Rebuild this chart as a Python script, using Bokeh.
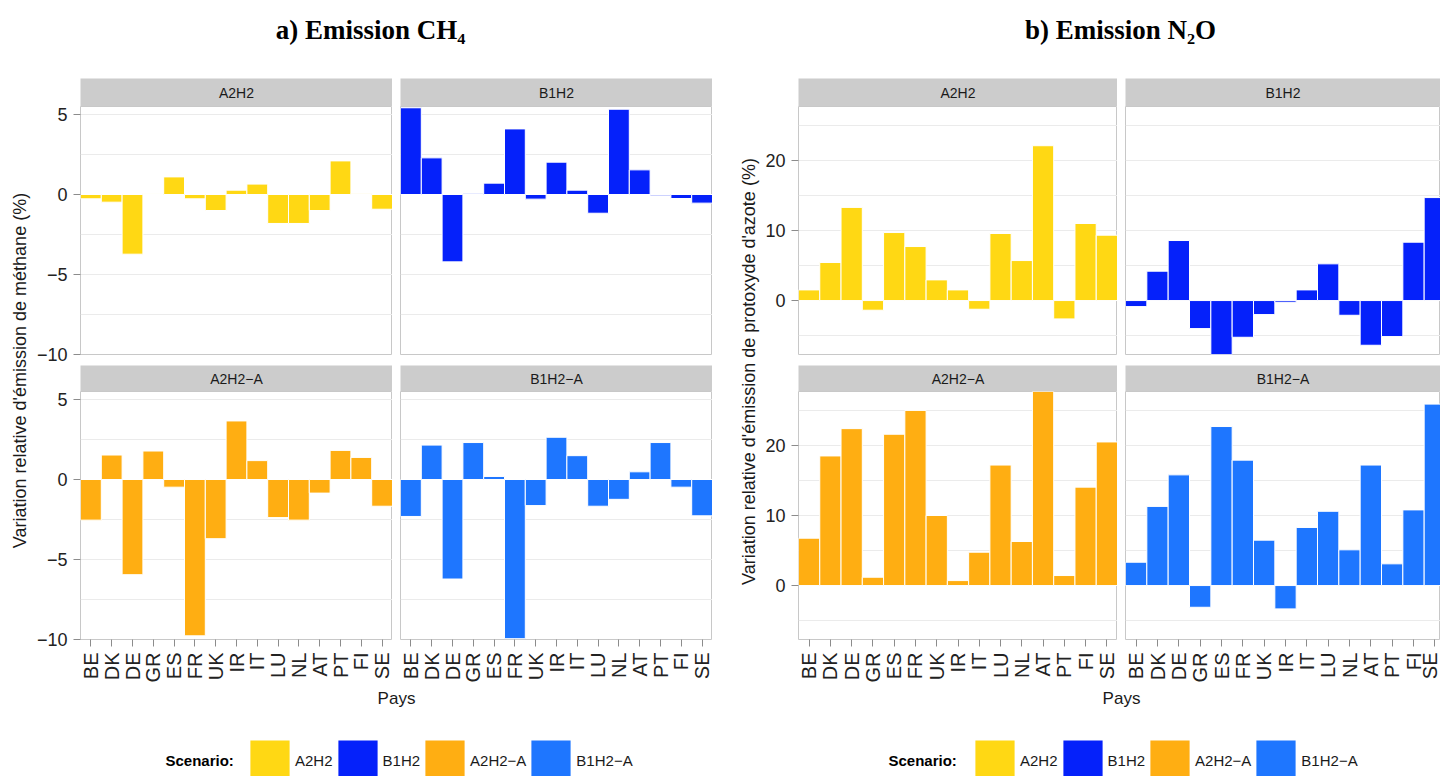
import math
from bokeh.plotting import figure
from bokeh.layouts import row, column
from bokeh.models import (Range1d, FixedTicker, CustomJSTickFormatter, Legend,
                          LegendItem, ColumnDataSource)
from bokeh.core.properties import value
from bokeh.embed import file_html
from bokeh.resources import INLINE

# ---------------- data ----------------
countries = ["BE", "DK", "DE", "GR", "ES", "FR", "UK", "IR", "IT", "LU", "NL", "AT", "PT", "FI", "SE"]
scenarios = ["A2H2", "B1H2", "A2H2\u2212A", "B1H2\u2212A"]
scenario_colors = ["#FFD814", "#0521FA", "#FFAE12", "#1E76FF"]

ch4_a2h2 = [-0.27, -0.48, -3.73, 0.06, 1.10, -0.27, -1.00, 0.27, 0.65, -1.81, -1.81, -1.00, 2.10, 0.05, -0.92]
ch4_b1h2 = [5.42, 2.29, -4.21, 0.04, 0.71, 4.10, -0.29, 2.02, 0.27, -1.17, 5.33, 1.54, -0.08, -0.25, -0.54]
ch4_a2h2a = [-2.54, 1.53, -5.95, 1.78, -0.48, -9.77, -3.70, 3.66, 1.18, -2.38, -2.54, -0.85, 1.82, 1.38, -1.67]
ch4_b1h2a = [-2.31, 2.15, -6.22, 2.31, 0.19, -9.95, -1.63, 2.64, 1.49, -1.67, -1.24, 0.48, 2.31, -0.48, -2.27]

n2o_a2h2 = [1.52, 5.43, 13.3, -1.38, 9.71, 7.71, 2.95, 1.52, -1.24, 9.57, 5.71, 22.1, -2.62, 11.0, 9.33]
n2o_b1h2 = [-0.86, 4.19, 8.57, -4.00, -7.70, -5.24, -2.00, -0.24, 1.52, 5.24, -2.10, -6.38, -5.14, 8.33, 14.7]
n2o_a2h2a = [6.76, 18.5, 22.4, 1.19, 21.6, 25.0, 10.0, 0.71, 4.76, 17.2, 6.29, 27.7, 1.43, 14.05, 20.5]
n2o_b1h2a = [3.33, 11.3, 15.8, -3.10, 22.7, 17.9, 6.48, -3.33, 8.29, 10.6, 5.10, 17.2, 3.10, 10.8, 25.9]

panel_titles = ["a) Emission CH\u2084", "b) Emission N\u2082O"]
y_titles = ["Variation relative d'\u00e9mission de m\u00e9thane (%)",
            "Variation relative d'\u00e9mission de protoxyde d'azote (%)"]
x_title = "Pays"
legend_title = "Scenario:"

ch4_limits = (-10.0, 5.5)
ch4_ticks = [-10, -5, 0, 5]
ch4_minor = [-7.5, -2.5, 2.5]
n2o_limits = (-7.7, 27.7)
n2o_ticks = [0, 10, 20]
n2o_minor = [-5, 5, 15, 25]

# ---------------- style ----------------
SANS = "Liberation Sans"
SERIF = "Liberation Serif"
STRIP_TOP_H = 28
STRIP_BOT_H = 26
FRAME_H = 248
GAP_B = 11
AXIS_B = 50
TEXT_COL = "#1A1A1A"
GRID_COL = "#EBEBEB"
TOTAL_W = 1440

minus_fmt = "return tick < 0 ? '\\u2212' + Math.abs(tick) : String(tick);"


def blank(width, height):
    p = figure(width=width, height=height, x_range=Range1d(0, width), y_range=Range1d(height, 0),
               min_border_left=0, min_border_right=0, min_border_top=0, min_border_bottom=0,
               x_axis_location=None, y_axis_location=None, outline_line_color=None,
               output_backend="svg", toolbar_location=None)
    p.grid.visible = False
    return p


def strip(label, width, min_left, height):
    p = figure(width=width, height=height, x_range=Range1d(0, 1), y_range=Range1d(0, 1),
               min_border_left=min_left, min_border_right=0, min_border_top=0, min_border_bottom=0,
               x_axis_location=None, y_axis_location=None,
               background_fill_color="#CCCCCC", border_fill_color="white", outline_line_color=None,
               output_backend="svg", toolbar_location=None)
    p.grid.visible = False
    p.text(x=[0.5], y=[0.5], text=[label], text_align="center", text_baseline="middle",
           text_font=value(SANS), text_font_size="14px", text_color=TEXT_COL)
    return p


def facet(vals, color, limits, ticks, minor, left_axis, bottom_axis, width, min_left, frame_w, full_w):
    n = len(countries)
    x_end = 0.5 + n * frame_w / full_w
    bb = AXIS_B if bottom_axis else GAP_B
    p = figure(width=width, height=FRAME_H + bb,
               x_range=Range1d(0.5, x_end), y_range=Range1d(*limits),
               min_border_left=min_left, min_border_right=0, min_border_top=0, min_border_bottom=bb,
               x_axis_location="below" if bottom_axis else None,
               y_axis_location="left" if left_axis else None,
               background_fill_color="white", border_fill_color="white",
               outline_line_color="#C8C8C8", outline_line_width=1,
               output_backend="svg", toolbar_location=None)
    src = ColumnDataSource(dict(x=list(range(1, n + 1)), top=vals, country=countries))
    p.vbar(x="x", top="top", bottom=0, width=1.0, source=src,
           fill_color=color, line_color="white", line_width=1)
    p.xgrid.visible = False
    p.ygrid.ticker = FixedTicker(ticks=ticks, minor_ticks=minor)
    p.ygrid.grid_line_color = GRID_COL
    p.ygrid.minor_grid_line_color = GRID_COL
    if left_axis:
        ax = p.yaxis[0]
        ax.ticker = FixedTicker(ticks=ticks)
        ax.formatter = CustomJSTickFormatter(code=minus_fmt)
        ax.axis_line_color = None
        ax.major_tick_out = 7
        ax.major_tick_in = 0
        ax.minor_tick_out = 0
        ax.minor_tick_in = 0
        ax.major_tick_line_color = "#8C8C8C"
        ax.major_label_standoff = 6
        ax.major_label_text_font = SANS
        ax.major_label_text_font_size = "18px"
        ax.major_label_text_color = "#222222"
    if bottom_axis:
        ax = p.xaxis[0]
        ax.ticker = FixedTicker(ticks=list(range(1, n + 1)))
        ax.formatter = CustomJSTickFormatter(
            args=dict(labels=countries),
            code="const i = Math.round(tick) - 1; return (i >= 0 && i < labels.length) ? labels[i] : '';")
        ax.major_label_orientation = math.pi / 2
        ax.axis_line_color = None
        ax.major_tick_out = 7
        ax.major_tick_in = 0
        ax.minor_tick_out = 0
        ax.minor_tick_in = 0
        ax.major_tick_line_color = "#8C8C8C"
        ax.major_label_standoff = 6
        ax.major_label_text_font = SANS
        ax.major_label_text_font_size = "20px"
        ax.major_label_text_color = "#222222"
    return p


def facet_column(top_vals, bot_vals, top_col, bot_col, top_name, bot_name, limits, ticks, minor,
                 left_axis, width, min_left, frame_w, full_w):
    return column(
        strip(top_name, width, min_left, STRIP_TOP_H),
        facet(top_vals, top_col, limits, ticks, minor, left_axis, False, width, min_left, frame_w, full_w),
        strip(bot_name, width, min_left, STRIP_BOT_H),
        facet(bot_vals, bot_col, limits, ticks, minor, left_axis, True, width, min_left, frame_w, full_w),
        spacing=0)


MAIN_H = STRIP_TOP_H + STRIP_BOT_H + FRAME_H * 2 + GAP_B + AXIS_B

# y-axis titles
ylab1 = blank(32, MAIN_H)
ylab1.text(x=[19], y=[292], text=[y_titles[0]], angle=math.pi / 2, text_align="center",
           text_baseline="middle", text_font=value(SANS), text_font_size="18px", text_color=TEXT_COL)
ylab2 = blank(50, MAIN_H)
ylab2.text(x=[36], y=[293], text=[y_titles[1]], angle=math.pi / 2, text_align="center",
           text_baseline="middle", text_font=value(SANS), text_font_size="18px", text_color=TEXT_COL)

c1 = facet_column(ch4_a2h2, ch4_a2h2a, scenario_colors[0], scenario_colors[2], scenarios[0], scenarios[2],
                  ch4_limits, ch4_ticks, ch4_minor, True, 360, 48, 312, 312)
c2 = facet_column(ch4_b1h2, ch4_b1h2a, scenario_colors[1], scenario_colors[3], scenarios[1], scenarios[3],
                  ch4_limits, ch4_ticks, ch4_minor, False, 320, 8, 312, 312)
c3 = facet_column(n2o_a2h2, n2o_a2h2a, scenario_colors[0], scenario_colors[2], scenarios[0], scenarios[2],
                  n2o_limits, n2o_ticks, n2o_minor, True, 355, 35, 320, 320)
c4 = facet_column(n2o_b1h2, n2o_b1h2a, scenario_colors[1], scenario_colors[3], scenarios[1], scenarios[3],
                  n2o_limits, n2o_ticks, n2o_minor, False, 323, 8, 315, 320)

main = row(ylab1, c1, c2, ylab2, c3, c4, spacing=0)

# panel titles
titles = blank(TOTAL_W, 78)
titles.text(x=[370, 1120], y=[29, 29], text=panel_titles, text_align="center", text_baseline="alphabetic",
            text_font=value(SERIF), text_font_style="bold", text_font_size="27px", text_color="black")

# x-axis titles
pays = blank(TOTAL_W, 31)
pays.text(x=[396, 1121], y=[9, 9], text=[x_title, x_title], text_align="center", text_baseline="middle",
          text_font=value(SANS), text_font_size="17px", text_color=TEXT_COL)

# legends
LEG_H = 56
leg = blank(TOTAL_W, LEG_H)
rends = [leg.vbar(x=[0], top=[0], bottom=[0], width=0, fill_color=c, line_color=None)
         for c in scenario_colors]
leg.text(x=[165, 888], y=[40, 40], text=[legend_title, legend_title], text_align="left",
         text_baseline="middle", text_font=value(SANS), text_font_style="bold",
         text_font_size="15px", text_color="black")
for lx in (245, 970):
    lg = Legend(items=[LegendItem(label=s, renderers=[r]) for s, r in zip(scenarios, rends)],
                orientation="horizontal", location=(lx, -9),
                glyph_width=49, glyph_height=50, label_standoff=1, spacing=0,
                padding=0, margin=0, border_line_color=None, background_fill_alpha=0,
                label_text_font=SANS, label_text_font_size="15px", label_text_color=TEXT_COL)
    leg.add_layout(lg)

layout = column(titles, main, pays, leg, spacing=0)

open("out.html", "w").write(file_html(layout, INLINE))
